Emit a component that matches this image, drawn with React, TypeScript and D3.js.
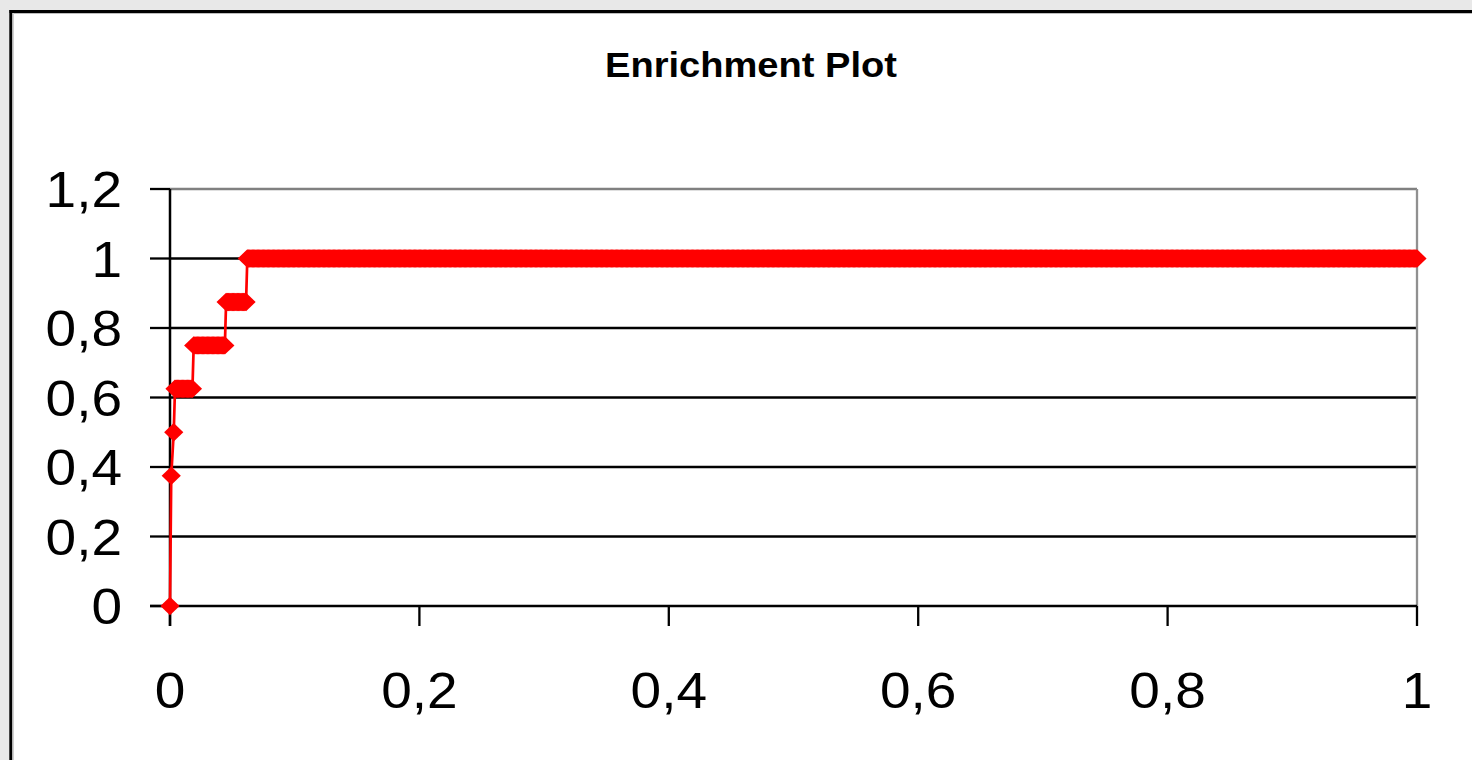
import React from "react";
import * as d3 from "d3";

// ---- data ----
const chartTitle = "Enrichment Plot";
// fraction of actives found (y) for each run of the ranked list
const runActiveFraction = [0, 0.375, 0.5, 0.625, 0.75, 0.875, 1];
// first / last rank index (of databaseSize compounds) of each run
const runStartRank = [0, 1, 3, 4, 19, 45, 62];
const runEndRank = [0, 1, 3, 18, 44, 61, 1000];
const databaseSize = 1000;
const xTicks = [0, 0.2, 0.4, 0.6, 0.8, 1];
const yTicks = [0, 0.2, 0.4, 0.6, 0.8, 1, 1.2];

type Pt = { x: number; y: number };
const points: Pt[] = [];
runActiveFraction.forEach((y, k) => {
  for (let r = runStartRank[k]; r <= runEndRank[k]; r++) {
    points.push({ x: r / databaseSize, y });
  }
});

const fmt = (v: number) => (Math.round(v * 10) / 10).toString().replace(".", ",");

export default function App() {
  const W = 1472;
  const H = 760;
  const left = 170;
  const right = 1417;
  const top = 189;
  const bottom = 606;
  const x = d3.scaleLinear().domain([0, 1]).range([left, right]);
  const y = d3.scaleLinear().domain([0, 1.2]).range([bottom, top]);
  const line = d3
    .line<Pt>()
    .x((d) => x(d.x))
    .y((d) => y(d.y));
  const diamond = "M0,-9.2L9.6,0L0,9.2L-9.6,0Z";
  const font = "'Liberation Sans', Arial, sans-serif";

  return (
    <svg
      width={W}
      height={H}
      style={{ position: "absolute", left: 0, top: 0, display: "block" }}
    >
      <rect x={0} y={0} width={W} height={H} fill="#e8e8e8" />
      <rect x={12} y={13} width={W + 100} height={H + 100} fill="#ffffff" />
      <line x1={13} x2={W} y1={13.5} y2={13.5} stroke="#bdbdbd" strokeWidth={1} />
      <line x1={13.5} x2={13.5} y1={13} y2={H} stroke="#d0d0d0" strokeWidth={1} />
      <line x1={9.5} x2={W} y1={11.5} y2={11.5} stroke="#000" strokeWidth={3} />
      <line x1={10.8} x2={10.8} y1={10} y2={H} stroke="#000" strokeWidth={3} />
      <text
        x={751}
        y={77}
        textAnchor="middle"
        fontFamily={font}
        fontWeight="bold"
        fontSize={35}
        textLength={292}
        lengthAdjust="spacingAndGlyphs"
        fill="#000"
      >
        {chartTitle}
      </text>

      {/* gridlines */}
      {yTicks
        .filter((t) => t > 0 && t < 1.2)
        .map((t) => (
          <line
            key={"g" + t}
            x1={left}
            x2={right}
            y1={y(t)}
            y2={y(t)}
            stroke="#000"
            strokeWidth={2.3}
          />
        ))}
      {/* plot area border (top/right) */}
      <line x1={left} x2={right} y1={y(1.2)} y2={y(1.2)} stroke="#808080" strokeWidth={2.3} />
      <line x1={right} x2={right} y1={y(1.2)} y2={y(0)} stroke="#909090" strokeWidth={2.3} />

      {/* axes */}
      <line x1={left} x2={left} y1={y(1.2)} y2={y(0) + 20} stroke="#000" strokeWidth={2.5} />
      <line x1={left - 20} x2={right} y1={y(0)} y2={y(0)} stroke="#000" strokeWidth={2.5} />
      {yTicks.map((t) => (
        <g key={"y" + t}>
          <line x1={left - 20} x2={left} y1={y(t)} y2={y(t)} stroke="#000" strokeWidth={2.3} />
          <text
            transform={`translate(122,${y(t) + 18}) scale(1.1,1)`}
            textAnchor="end"
            fontFamily={font}
            fontSize={50}
            fill="#000"
          >
            {fmt(t)}
          </text>
        </g>
      ))}
      {xTicks.map((t) => (
        <g key={"x" + t}>
          <line x1={x(t)} x2={x(t)} y1={y(0)} y2={y(0) + 20} stroke="#000" strokeWidth={2.3} />
          <text
            transform={`translate(${x(t)},708) scale(1.1,1)`}
            textAnchor="middle"
            fontFamily={font}
            fontSize={50}
            fill="#000"
          >
            {fmt(t)}
          </text>
        </g>
      ))}

      {/* series */}
      <path d={line(points) || ""} fill="none" stroke="#ff0000" strokeWidth={2.7} />
      {points.map((p, i) => (
        <path
          key={i}
          d={diamond}
          transform={`translate(${x(p.x)},${y(p.y)})`}
          fill="#ff0000"
        />
      ))}
    </svg>
  );
}
